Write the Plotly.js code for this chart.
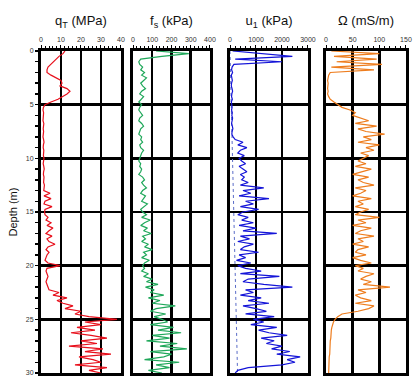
<!DOCTYPE html>
<html>
<head>
<meta charset="utf-8">
<script src="https://cdn.plot.ly/plotly-3.0.1.min.js"></script>
<style>html,body{margin:0;padding:0;background:#fff;}#chart{width:414px;height:380px;}</style>
</head>
<body>
<div id="chart"></div>
<script>
// Depth (m), sampled every 0.25 m
const depth = [
0,0.25,0.5,0.75,1,1.25,1.5,1.75,2,2.25,2.5,2.75,3,3.25,3.5,3.75,4,4.25,4.5,4.75,
5,5.25,5.5,5.75,6,6.25,6.5,6.75,7,7.25,7.5,7.75,8,8.25,8.5,8.75,9,9.25,9.5,9.75,
10,10.25,10.5,10.75,11,11.25,11.5,11.75,12,12.25,12.5,12.75,13,13.25,13.5,13.75,14,14.25,14.5,14.75,
15,15.25,15.5,15.75,16,16.25,16.5,16.75,17,17.25,17.5,17.75,18,18.25,18.5,18.75,19,19.25,19.5,19.75,
20,20.25,20.5,20.75,21,21.25,21.5,21.75,22,22.25,22.5,22.75,23,23.25,23.5,23.75,24,24.25,24.5,24.75,
25,25.25,25.5,25.75,26,26.25,26.5,26.75,27,27.25,27.5,27.75,28,28.25,28.5,28.75,29,29.25,29.5,29.75,30];

// Corrected cone resistance qT (MPa)
const qT = [
12,11,9,7.5,6,4.5,3.5,3,3,5,7.5,10,10.5,9.5,13,14.5,13,10.5,8.5,5,2,
1.2,1.0,1.3,1.1,1.2,1.0,1.4,1.2,1.1,1.3,1.2,1.0,1.3,1.5,1.2,1.1,1.4,1.3,1.2,1.5,1.3,1.1,1.4,1.6,1.3,1.2,1.5,1.4,1.3,1.7,1.5,1.4,
4.5,1.5,5,2,1.5,5.5,2,1.8,
2,3.5,2.5,5,3,6,4,2.5,5.5,3,4,7,3.5,2.5,4,3,2.5,2,3.5,9.5,
3,2.5,3,3.5,3,2.5,3,3.5,4,
9,6,13,8,11,16,12,20,17,24,38,
22,30,18,27,15,25,33,20,28,14,31,22,35,19,26,30,17,33,24,30];

// Sleeve friction fs (kPa)
const fs = [
120,290,150,40,30,
35,50,40,60,45,70,55,40,50,65,45,35,55,40,30,45,
35,30,40,50,35,30,45,55,40,35,30,45,40,50,35,40,55,45,40,35,
30,40,35,45,40,30,50,60,45,55,70,50,40,65,55,45,75,60,40,50,
70,45,90,60,40,75,55,95,50,65,45,80,60,100,55,70,45,85,60,50,
60,45,80,55,100,70,130,65,110,90,160,80,140,100,220,120,90,170,110,150,
180,90,210,130,250,100,190,70,230,140,280,90,200,160,60,240,120,190,80,150];

// Pore pressure u1 (kPa)
const u1 = [
100,1400,2400,200,2000,
150,80,60,100,50,70,90,60,50,80,100,70,60,90,50,70,80,60,90,70,100,80,60,90,110,80,70,120,
200,500,300,650,400,300,550,350,450,600,350,500,650,400,550,450,
700,400,1300,500,800,350,1500,600,900,400,1100,500,
300,700,450,900,350,1000,500,1800,400,750,300,900,550,400,1100,350,600,250,800,300,
600,1200,400,1900,700,500,1300,2400,600,900,400,1200,700,1500,500,1000,1400,600,1700,900,
1300,800,1800,1100,1500,2200,1200,1700,1400,2000,1600,2300,1800,2700,2200,2500,2000,700,300,200];

// Hydrostatic pore pressure u0 (kPa)
const u0Depth = [0, 30];
const u0 = [0, 290];

// Electrical conductivity (mS/m)
const omega = [
10,100,15,95,20,105,10,90,8,
5,4,3,4,3,3,4,3,5,
8,15,22,30,45,55,50,
65,80,55,95,60,75,110,70,85,60,100,75,90,65,80,70,
60,75,55,85,65,50,80,60,70,90,55,75,65,50,85,60,70,55,80,65,
55,100,60,75,50,85,65,55,90,60,70,50,80,60,55,75,50,65,85,55,
70,60,90,75,65,85,70,120,60,75,55,65,85,55,90,80,60,30,22,17,
14,12,11,10,10,9,9,8,8,8,7,7,7,6,6,6,5,5,5,5];

// Axis tick labels
const qTTicks = [0, 10, 20, 30, 40];
const fsTicks = [0, 100, 200, 300, 400];
const u1Ticks = [0, 1000, 2000, 3000];
const omegaTicks = [0, 50, 100, 150];
const depthTicks = [0, 5, 10, 15, 20, 25, 30];

const W = 414;
const panels = [
  {title:'q<sub>T</sub> (MPa)', ticks:qTTicks, minor:2, x0:41, x1:121},
  {title:'f<sub>s</sub> (kPa)', ticks:fsTicks, minor:20, x0:133, x1:210},
  {title:'u<sub>1</sub> (kPa)', ticks:u1Ticks, minor:200, x0:230, x1:308},
  {title:'Ω (mS/m)', ticks:omegaTicks, minor:10, x0:326, x1:406}
];

const font = {family:'"Liberation Sans", Arial, sans-serif', color:'#111'};

const traces = [
  {x:qT, y:depth, xaxis:'x', yaxis:'y', mode:'lines', line:{color:'#e8101c', width:1.2}},
  {x:fs, y:depth, xaxis:'x2', yaxis:'y2', mode:'lines', line:{color:'#1fa85a', width:1.2}},
  {x:u0, y:u0Depth, xaxis:'x3', yaxis:'y3', mode:'lines', line:{color:'#5a6cc8', width:1, dash:'dot'}},
  {x:u1, y:depth, xaxis:'x3', yaxis:'y3', mode:'lines', line:{color:'#1414d8', width:1.2}},
  {x:omega, y:depth, xaxis:'x4', yaxis:'y4', mode:'lines', line:{color:'#ee7d1e', width:1.2}}
];

const layout = {
  width:414, height:380,
  margin:{l:0, r:0, t:51, b:7},
  paper_bgcolor:'#fff', plot_bgcolor:'#fff',
  showlegend:false,
  font: font
};

panels.forEach((p, i) => {
  const k = i === 0 ? '' : String(i + 1);
  const lo = p.ticks[0], hi = p.ticks[p.ticks.length - 1];
  layout['xaxis' + k] = {
    domain:[p.x0 / W, p.x1 / W],
    range:[lo, hi + (hi - lo) * 0.0005],
    tickmode:'array', tickvals:p.ticks, ticktext:p.ticks.map(String),
    ticklabeloverflow:'allow',
    side:'top', anchor:'y' + k,
    showgrid:true, gridcolor:'#000', gridwidth:2.5,
    showline:true, linecolor:'#000', linewidth:3, mirror:true,
    zeroline:false,
    ticks:'outside', ticklen:3, tickwidth:1, tickcolor:'#000',
    minor:{dtick:p.minor, tick0:0, ticks:'outside', ticklen:2, tickcolor:'#000', showgrid:false},
    tickfont:{size:7, color:'#333'},
    title:{text:p.title, font:{size:13, color:'#111'}, standoff:8},
    fixedrange:true
  };
  layout['yaxis' + k] = {
    domain:[0, 1],
    range:[30, 0],
    tickmode:'array', tickvals:depthTicks, ticktext:depthTicks.map(String),
    anchor:'x' + k,
    showgrid:true, gridcolor:'#000', gridwidth:2.5,
    showline:true, linecolor:'#000', linewidth:3, mirror:true,
    zeroline:false,
    showticklabels: i === 0,
    ticks: i === 0 ? 'outside' : '',
    ticklen:3, tickwidth:1, tickcolor:'#000',
    tickfont:{size:7, color:'#333'},
    fixedrange:true
  };
  if (i === 0) {
    layout.yaxis.minor = {dtick:1, tick0:0, ticks:'outside', ticklen:3, tickwidth:1.5, tickcolor:'#000', showgrid:false};
    layout.yaxis.title = {text:'Depth (m)', font:{size:11, color:'#111'}, standoff:6};
  } else {
    layout['yaxis' + k].matches = 'y';
  }
});

Plotly.newPlot('chart', traces, layout, {displayModeBar:false, staticPlot:true});
</script>
</body>
</html>
